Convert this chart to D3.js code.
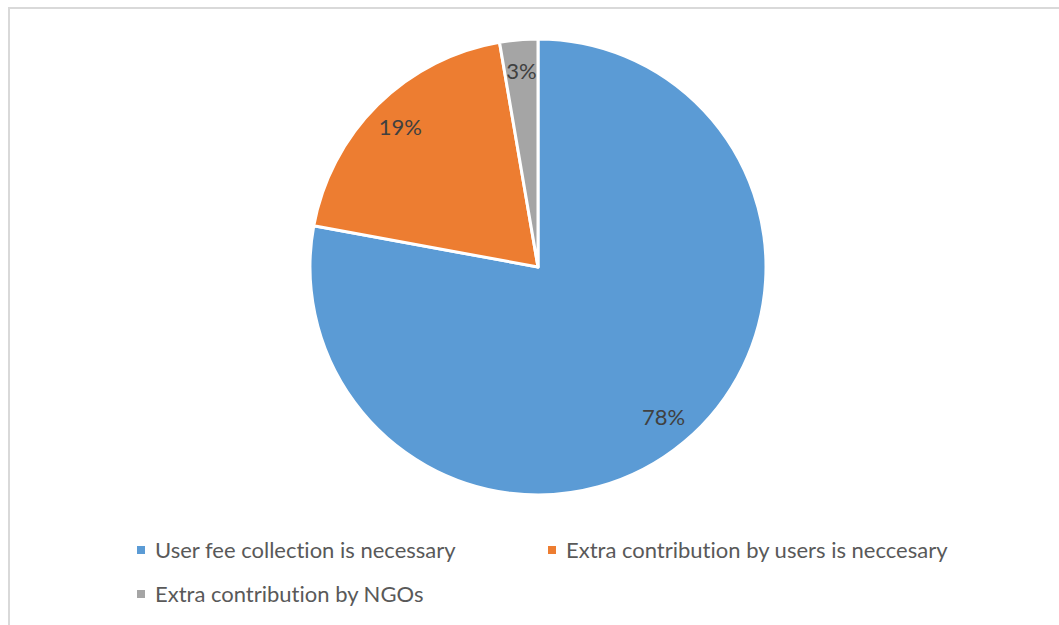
<!DOCTYPE html>
<html>
<head>
<meta charset="utf-8">
<script src="https://cdn.jsdelivr.net/npm/d3@7"></script>
<style>
  body { margin: 0; background: #fff; }
  svg { display: block; }
  text { font-family: Lato, "Open Sans", sans-serif; font-variant-ligatures: none; }
</style>
</head>
<body>
<div id="vis"></div>
<script>
var width = 1059;
var height = 625;

// chart data (shares in %, labels shown rounded)
var categories = ['User fee collection is necessary', 'Extra contribution by users is neccesary', 'Extra contribution by NGOs'];
var values = [77.9, 19.4, 2.7];
var colors = ['#5b9bd5', '#ed7d31', '#a5a5a5'];

var svg = d3.select('#vis').append('svg')
  .attr('width', width)
  .attr('height', height);

// chart area border (runs off the right and bottom edge)
svg.append('rect')
  .attr('x', 9).attr('y', 8)
  .attr('width', width + 20).attr('height', height + 20)
  .attr('fill', 'none')
  .attr('stroke', '#d9d9d9')
  .attr('stroke-width', 2);

var cx = 538, cy = 267, radius = 228;

var pie = d3.pie().sort(null).value(function (d) { return d; });
var arc = d3.arc().innerRadius(0).outerRadius(radius);
var labelArc = d3.arc().innerRadius(radius * 0.86).outerRadius(radius * 0.86);

var g = svg.append('g')
  .attr('transform', 'translate(' + cx + ',' + cy + ')');

var slices = g.selectAll('.slice')
  .data(pie(values))
  .enter()
  .append('g')
  .attr('class', 'slice');

slices.append('path')
  .attr('d', arc)
  .attr('fill', function (d, i) { return colors[i]; })
  .attr('stroke', '#fff')
  .attr('stroke-width', 3)
  .attr('stroke-linejoin', 'round');

slices.append('text')
  .attr('transform', function (d) { return 'translate(' + labelArc.centroid(d) + ')'; })
  .attr('text-anchor', 'middle')
  .attr('dy', '0.35em')
  .attr('fill', '#404040')
  .style('font-size', '22px')
  .text(function (d) { return Math.round(d.data) + '%'; });

// legend
var legendPos = [[137, 550], [548, 550], [137, 594]];

var legend = svg.selectAll('.legend')
  .data(categories)
  .enter()
  .append('g')
  .attr('class', 'legend')
  .attr('transform', function (d, i) { return 'translate(' + legendPos[i][0] + ',' + legendPos[i][1] + ')'; });

legend.append('rect')
  .attr('x', 0).attr('y', -4)
  .attr('width', 8).attr('height', 8)
  .attr('fill', function (d, i) { return colors[i]; });

legend.append('text')
  .attr('x', 18)
  .attr('dy', '0.35em')
  .attr('fill', '#595959')
  .style('font-size', '22px')
  .text(function (d) { return d; });
</script>
</body>
</html>
